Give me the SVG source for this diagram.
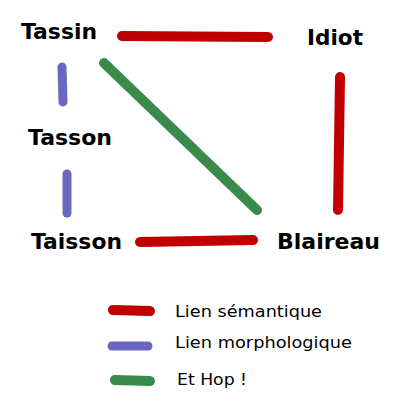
<svg xmlns="http://www.w3.org/2000/svg" width="400" height="409" viewBox="0 0 400 409">
<style>
.lbl{font-family:"DejaVu Sans",sans-serif;font-weight:bold;font-size:21px;fill:#000}
.leg{font-family:"DejaVu Sans",sans-serif;font-size:16.5px;fill:#000}
.sem{stroke:#c00000;stroke-width:10;stroke-linecap:round;fill:none}
.mor{stroke:#6868c0;stroke-width:9;stroke-linecap:round;fill:none}
.hop{stroke:#3a8a4c;stroke-width:10;stroke-linecap:round;fill:none}
</style>
<rect width="400" height="409" fill="#fff"/>
<g id="connectors">
<line class="sem" x1="122" y1="36" x2="268" y2="37"/>
<line class="sem" x1="340" y1="77" x2="338" y2="210"/>
<line class="sem" x1="140" y1="242" x2="253" y2="240"/>
<line class="hop" x1="104" y1="63" x2="257" y2="210"/>
<line class="mor" x1="62" y1="67" x2="63" y2="102"/>
<line class="mor" x1="67" y1="174" x2="67" y2="213"/>
</g>
<g id="Tassin"><text class="lbl" x="21" y="39" textLength="76" lengthAdjust="spacingAndGlyphs">Tassin</text></g>
<g id="Idiot"><text class="lbl" x="307" y="45" textLength="56" lengthAdjust="spacingAndGlyphs">Idiot</text></g>
<g id="Tasson"><text class="lbl" x="28" y="145" textLength="84" lengthAdjust="spacingAndGlyphs">Tasson</text></g>
<g id="Taisson"><text class="lbl" x="31" y="249" textLength="91" lengthAdjust="spacingAndGlyphs">Taisson</text></g>
<g id="Blaireau"><text class="lbl" x="277" y="249" textLength="103" lengthAdjust="spacingAndGlyphs">Blaireau</text></g>
<g id="legend">
<line class="sem" x1="113" y1="310" x2="150" y2="311"/>
<text class="leg" x="175" y="317" textLength="147" lengthAdjust="spacingAndGlyphs">Lien sémantique</text>
<line class="mor" x1="112" y1="346" x2="148" y2="346"/>
<text class="leg" x="175" y="348" textLength="177" lengthAdjust="spacingAndGlyphs">Lien morphologique</text>
<line class="hop" x1="115" y1="380" x2="150" y2="381"/>
<text class="leg" x="177" y="385" textLength="70" lengthAdjust="spacingAndGlyphs">Et Hop !</text>
</g>
</svg>
